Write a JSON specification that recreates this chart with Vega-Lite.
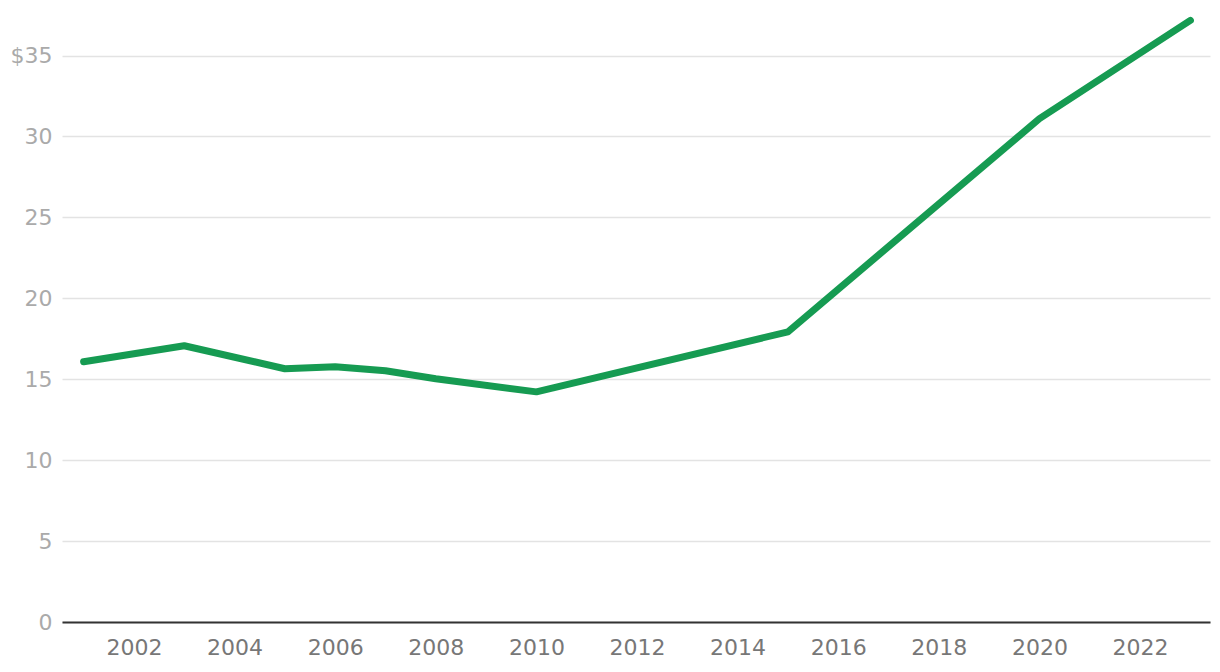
{
  "$schema": "https://vega.github.io/schema/vega-lite/v6.json",
  "width": 1148,
  "height": 615,
  "autosize": "none",
  "padding": {"left": 62, "top": 7, "right": 10, "bottom": 50},
  "background": "white",
  "config": {"view": {"stroke": null}, "font": "DejaVu Sans"},
  "data": {"values": [
    {"year": 2001, "value": 16.08},
    {"year": 2003, "value": 17.07},
    {"year": 2005, "value": 15.65},
    {"year": 2006, "value": 15.77},
    {"year": 2007, "value": 15.52},
    {"year": 2008, "value": 15.03},
    {"year": 2010, "value": 14.22},
    {"year": 2015, "value": 17.93},
    {"year": 2020, "value": 31.1},
    {"year": 2023, "value": 37.17}
  ]},
  "mark": {"type": "line", "color": "#169b52", "strokeWidth": 7, "strokeCap": "round", "strokeJoin": "round"},
  "encoding": {
    "x": {"field": "year", "type": "quantitative",
      "scale": {"domain": [2000.57, 2023.39], "nice": false, "zero": false},
      "axis": {"title": null, "values": [2002, 2004, 2006, 2008, 2010, 2012, 2014, 2016, 2018, 2020, 2022],
        "format": "d", "grid": false, "ticks": false, "domainColor": "#333", "domainWidth": 2,
        "labelColor": "#777", "labelFontSize": 22, "labelPadding": 15}},
    "y": {"field": "value", "type": "quantitative",
      "scale": {"domain": [0, 38], "nice": false},
      "axis": {"title": null, "values": [0, 5, 10, 15, 20, 25, 30, 35], "domain": false, "ticks": false,
        "gridColor": "#e3e3e3", "gridWidth": 1.5, "labelColor": "#aaa", "labelFontSize": 22, "labelPadding": 10,
        "labelExpr": "datum.value == 35 ? '$35' : datum.label"}}
  }
}
